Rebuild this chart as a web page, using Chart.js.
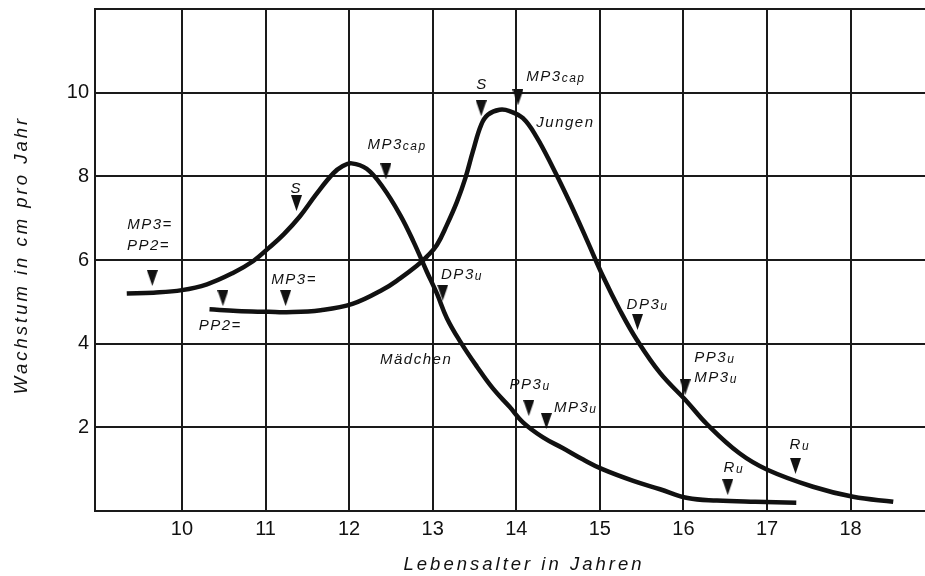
<!DOCTYPE html>
<html>
<head>
<meta charset="utf-8">
<script src="https://cdn.jsdelivr.net/npm/chart.js@4.4.1/dist/chart.umd.min.js"></script>
<style>
  html, body { margin: 0; padding: 0; background: #fff; }
  canvas { display: block; }
</style>
</head>
<body>
<canvas id="growth" width="925" height="576"></canvas>
<script>
// achsen
const xTicks = [10, 11, 12, 13, 14, 15, 16, 17, 18];
const xTickLabels = ['10', '11', '12', '13', '14', '15', '16', '17', '18'];
const yTicks = [0, 2, 4, 6, 8, 10, 12];
const yTickLabels = ['', '2', '4', '6', '8', '10', ''];

// Mädchen
const girlsAge = [9.34, 9.66, 10.0, 10.3, 10.61, 10.85, 11.04, 11.22, 11.41, 11.61, 11.81, 11.92, 12.03, 12.21, 12.4, 12.61, 12.77, 12.93, 13.05, 13.17, 13.33, 13.53, 13.72, 13.92, 14.08, 14.32, 14.56, 14.8, 15.03, 15.4, 15.72, 16.05, 16.4, 16.86, 17.35];
const girlsGrowth = [5.2, 5.22, 5.28, 5.42, 5.69, 5.97, 6.29, 6.62, 7.04, 7.58, 8.07, 8.24, 8.31, 8.18, 7.75, 7.08, 6.44, 5.72, 5.2, 4.61, 4.05, 3.45, 2.93, 2.49, 2.12, 1.76, 1.5, 1.23, 1.0, 0.72, 0.52, 0.31, 0.25, 0.22, 0.2];

// Jungen
const boysAge = [10.33, 10.66, 11.04, 11.25, 11.66, 12.04, 12.41, 12.61, 12.81, 12.93, 13.05, 13.17, 13.29, 13.39, 13.48, 13.58, 13.66, 13.8, 13.92, 14.08, 14.24, 14.44, 14.64, 14.84, 15.04, 15.24, 15.44, 15.72, 16.04, 16.28, 16.67, 17.01, 17.55, 18.03, 18.51];
const boysGrowth = [4.82, 4.78, 4.76, 4.75, 4.8, 4.95, 5.3, 5.56, 5.86, 6.08, 6.36, 6.84, 7.39, 7.95, 8.59, 9.23, 9.47, 9.59, 9.56, 9.39, 8.95, 8.2, 7.38, 6.5, 5.6, 4.8, 4.1, 3.3, 2.62, 2.08, 1.38, 0.98, 0.58, 0.34, 0.22];

// pfeile (reifestadien)
const markerAge = [9.645, 10.49, 11.24, 11.37, 12.44, 13.58, 14.02, 13.12, 15.45, 16.02, 14.15, 14.36, 16.53, 17.34];
const markerGrowth = [5.57, 5.09, 5.09, 7.36, 8.12, 9.63, 9.89, 5.22, 4.52, 2.96, 2.46, 2.15, 0.57, 1.08];

// beschriftungen
const labelText = ['MP3=', 'PP2=', 'MP3=', 'PP2=', 'S', 'MP3', 'S', 'MP3', 'Jungen', 'DP3', 'DP3', 'Mädchen', 'PP3', 'MP3', 'PP3', 'MP3', 'R', 'R'];
const labelSub = ['', '', '', '', '', 'cap', '', 'cap', '', 'u', 'u', '', 'u', 'u', 'u', 'u', 'u', 'u'];
const labelAge = [9.346, 9.343, 11.07, 10.2, 11.3, 12.22, 13.52, 14.12, 14.24, 13.1, 15.32, 12.37, 13.92, 14.45, 16.13, 16.13, 16.48, 17.27];
const labelGrowth = [6.73, 6.24, 5.42, 4.33, 7.6, 8.65, 10.09, 10.29, 9.18, 5.54, 4.82, 3.51, 2.91, 2.36, 3.57, 3.09, 0.93, 1.48];

const FONT = '"Liberation Sans", Arial, sans-serif';
const INK = '#111';

const arrow = document.createElement('canvas');
arrow.width = 11;
arrow.height = 16;
const actx = arrow.getContext('2d');
actx.fillStyle = INK;
actx.beginPath();
actx.moveTo(0, 0);
actx.lineTo(11, 0);
actx.lineTo(5.5, 16);
actx.closePath();
actx.fill();

const toPoints = (xs, ys) => xs.map((x, i) => ({ x: x, y: ys[i] }));

const textPlugin = {
    id: 'texts',
    afterDatasetsDraw(chart) {
        const ctx = chart.ctx;
        const xs = chart.scales.x, ys = chart.scales.y;
        ctx.save();
        ctx.fillStyle = INK;
        ctx.textAlign = 'left';
        ctx.textBaseline = 'alphabetic';
        ctx.letterSpacing = '1.5px';
        labelText.forEach((t, i) => {
            const px = xs.getPixelForValue(labelAge[i]);
            const py = ys.getPixelForValue(labelGrowth[i]);
            ctx.font = 'italic 15px ' + FONT;
            ctx.fillText(t, px, py);
            if (labelSub[i]) {
                const w = ctx.measureText(t).width;
                ctx.font = 'italic 12px ' + FONT;
                ctx.fillText(labelSub[i], px + w, py + 1);
            }
        });
        ctx.restore();
    },
    afterDraw(chart) {
        const ctx = chart.ctx;
        ctx.save();
        ctx.fillStyle = INK;
        ctx.font = 'italic 18.5px ' + FONT;
        ctx.letterSpacing = '3px';
        ctx.textAlign = 'center';
        ctx.textBaseline = 'alphabetic';
        ctx.fillText('Lebensalter in Jahren', 524, 570);
        ctx.translate(27, 255);
        ctx.rotate(-Math.PI / 2);
        ctx.fillText('Wachstum in cm pro Jahr', 0, 0);
        ctx.restore();
    }
};

new Chart(document.getElementById('growth'), {
    type: 'scatter',
    data: {
        datasets: [
            {
                label: 'Mädchen',
                data: toPoints(girlsAge, girlsGrowth),
                showLine: true,
                borderColor: INK,
                borderWidth: 4.5,
                pointRadius: 0,
                tension: 0.4
            },
            {
                label: 'Jungen',
                data: toPoints(boysAge, boysGrowth),
                showLine: true,
                borderColor: INK,
                borderWidth: 4.5,
                pointRadius: 0,
                tension: 0.4
            },
            {
                label: 'Pfeile',
                data: toPoints(markerAge, markerGrowth),
                showLine: false,
                pointStyle: arrow,
                pointRadius: 8
            }
        ]
    },
    options: {
        responsive: false,
        animation: false,
        devicePixelRatio: 1,
        layout: { autoPadding: false, padding: { top: 9, right: 0, left: 0, bottom: 0 } },
        scales: {
            x: {
                type: 'linear',
                min: 8.96,
                max: 18.89,
                afterBuildTicks: (scale) => { scale.ticks = xTicks.map(v => ({ value: v })); },
                afterFit: (scale) => {
                    scale.height = 65;
                    scale.paddingLeft = 0;
                    scale.paddingRight = 0;
                },
                ticks: {
                    color: INK,
                    padding: 10,
                    font: { family: FONT, size: 20, lineHeight: 0.8 },
                    callback: (v) => xTickLabels[xTicks.indexOf(v)]
                },
                grid: { color: '#1a1a1a', lineWidth: 2, drawTicks: false },
                border: { color: '#1a1a1a', width: 2 }
            },
            y: {
                min: 0,
                max: 12,
                afterBuildTicks: (scale) => { scale.ticks = yTicks.map(v => ({ value: v })); },
                afterFit: (scale) => {
                    scale.width = 95;
                    scale.paddingTop = 0;
                    scale.paddingBottom = 0;
                },
                ticks: {
                    color: INK,
                    padding: 6,
                    font: { family: FONT, size: 20, lineHeight: 0.8 },
                    callback: (v) => yTickLabels[yTicks.indexOf(v)]
                },
                grid: { color: '#1a1a1a', lineWidth: 2, drawTicks: false },
                border: { color: '#1a1a1a', width: 2 }
            }
        },
        plugins: {
            legend: { display: false },
            tooltip: { enabled: false }
        }
    },
    plugins: [textPlugin]
});
</script>
</body>
</html>
